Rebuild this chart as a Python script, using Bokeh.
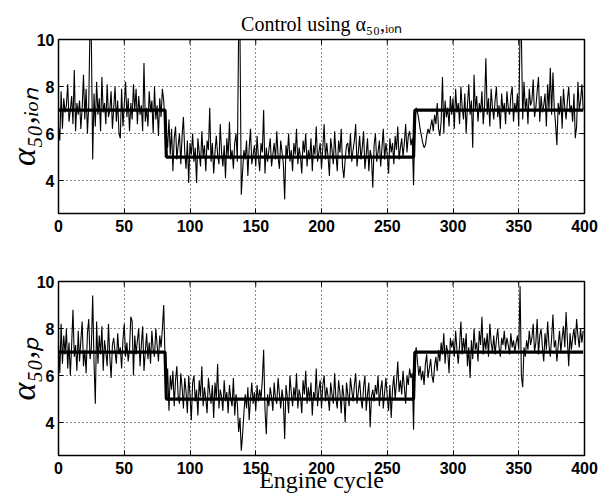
from bokeh.plotting import figure
from bokeh.models import Range1d
from bokeh.layouts import column
from bokeh.embed import file_html
from bokeh.resources import INLINE

cycles = list(range(400))

alpha_ion = [
    6.3, 5.7, 7.8, 6.2, 7.5, 6.9, 7.2, 8.1, 6.5, 7.0, 7.6, 6.4, 8.7, 6.1, 7.3, 6.8, 7.4, 6.2, 7.1, 8.5,
    6.6, 7.9, 6.0, 7.2, 10.8, 9.9, 4.9, 7.7, 6.3, 8.2, 6.8, 7.5, 6.1, 8.4, 6.9, 7.3, 6.4, 8.1, 6.7, 7.0,
    7.8, 6.2, 7.1, 8.0, 6.5, 7.4, 6.0, 5.8, 7.9, 6.3, 7.2, 8.2, 6.7, 7.5, 6.1, 7.3, 6.6, 8.1, 7.0, 7.9,
    6.4, 7.6, 6.8, 7.2, 6.1, 9.0, 6.5, 7.1, 6.3, 7.8, 6.9, 7.4, 6.0, 8.0, 6.6, 7.2, 5.9, 7.5, 6.7, 7.9,
    7.4, 6.5, 6.0, 5.4, 6.6, 5.1, 6.2, 4.4, 5.8, 6.3, 4.9, 5.5, 6.0, 4.7, 5.9, 6.7, 5.2, 4.5, 5.7, 3.9,
    5.6, 5.1, 6.0, 4.8, 5.4, 3.9, 5.8, 5.2, 4.6, 6.1, 5.0, 5.5, 4.4, 5.7, 5.3, 7.1, 4.8, 5.6, 4.3, 5.2,
    5.9, 5.1, 4.7, 6.4, 5.2, 4.6, 5.5, 4.1, 5.8, 5.0, 6.5, 4.9, 5.3, 4.5, 5.6, 6.0, 4.8, 10.5, 10.3, 3.4,
    4.4, 5.3, 4.9, 5.7, 4.2, 5.4, 6.2, 4.7, 5.1, 5.5, 4.6, 5.9, 5.0, 4.4, 5.6, 5.2, 7.0, 4.3, 5.4, 4.8,
    5.3, 5.8, 4.6, 5.1, 5.6, 4.9, 6.1, 5.0, 4.5, 5.7, 5.2, 4.7, 3.2, 5.5, 5.0, 6.0, 4.8, 5.3, 4.4, 5.6,
    5.1, 6.2, 4.7, 5.4, 5.0, 4.3, 5.7, 5.2, 6.0, 4.6, 5.3, 4.9, 5.8, 4.4, 5.5, 5.1, 6.3, 4.8, 5.2, 5.6,
    4.5, 5.4, 6.4, 4.9, 5.6, 5.0, 4.2, 5.8, 5.3, 4.7, 6.1, 5.1, 4.4, 5.7, 5.2, 6.2, 4.6, 4.1, 4.9, 5.5,
    5.6, 5.0, 6.0, 4.8, 5.3, 5.7, 6.4, 4.6, 5.2, 5.9, 4.9, 5.4, 6.1, 4.5, 5.1, 5.8, 4.4, 5.3, 5.0, 3.7,
    5.5, 6.0, 4.8, 5.2, 5.7, 4.6, 5.4, 6.2, 4.9, 5.6, 5.1, 4.3, 5.8, 5.2, 5.6, 4.7, 5.9, 5.3, 6.3, 4.9,
    5.4, 5.8, 5.0, 5.6, 6.4, 5.2, 5.9, 6.1, 5.5, 5.8, 3.8, 6.5, 7.1, 6.9, 6.6, 6.2, 5.9, 5.6, 5.4, 5.5,
    5.9, 6.2, 6.0, 6.3, 6.6, 6.1, 6.8, 6.4, 7.3, 6.2, 5.9, 6.5, 8.4, 6.0, 7.4, 6.7, 7.1, 6.3, 7.6, 6.8,
    7.5, 6.2, 7.9, 6.9, 7.3, 6.4, 8.0, 7.1, 6.6, 7.7, 6.0, 7.2, 8.1, 6.8, 7.4, 5.4, 8.5, 7.0, 7.6, 6.5,
    7.3, 6.9, 7.8, 6.4, 7.2, 9.2, 6.8, 7.5, 6.3, 7.9, 7.1, 6.6, 7.4, 8.0, 6.7, 7.2, 6.2, 7.7, 6.9, 7.3,
    6.4, 7.8, 7.1, 6.8, 7.6, 8.0, 6.5, 7.3, 6.9, 7.7, 6.3, 10.5, 10.2, 6.6, 8.2, 7.0, 7.5, 6.4, 7.9, 7.2,
    7.4, 8.3, 6.7, 7.1, 7.8, 8.4, 6.5, 7.6, 6.9, 7.2, 7.7, 6.3, 8.1, 7.0, 8.8, 6.8, 8.6, 7.1, 6.4, 5.5,
    7.3, 6.8, 7.6, 6.2, 7.9, 7.1, 6.6, 7.4, 8.0, 6.9, 7.2, 6.5, 7.7, 5.8, 6.3, 8.2, 7.0, 7.4, 8.1, 7.0,
]

alpha_p = [
    7.4, 6.1, 8.2, 6.5, 7.7, 6.9, 8.0, 6.3, 7.4, 6.0, 7.3, 8.8, 6.8, 7.3, 6.2, 7.9, 6.6, 7.5, 8.3, 6.4,
    7.1, 6.1, 7.8, 8.4, 6.7, 7.2, 9.4, 6.6, 4.8, 8.3, 6.5, 7.7, 6.9, 8.1, 6.2, 7.5, 7.0, 6.4, 8.2, 6.8,
    5.9, 7.3, 7.6, 7.0, 6.5, 7.8, 6.9, 7.2, 6.3, 7.5, 8.2, 6.8, 7.4, 6.6, 7.1, 8.5, 8.3, 6.0, 7.7, 6.9,
    7.5, 8.0, 6.4, 7.3, 8.1, 6.2, 7.0, 7.8, 6.7, 7.4, 6.5, 7.9, 7.1, 6.8, 8.0, 7.3, 6.6, 7.7, 7.2, 8.0,
    9.0, 6.8, 5.2, 6.3, 4.5, 6.0, 5.4, 6.2, 4.7, 5.8, 6.4, 5.1, 4.8, 6.1, 5.5, 4.6, 5.9, 5.3, 4.4, 6.0,
    5.2, 4.1, 5.7, 6.0, 4.9, 5.4, 4.3, 5.8, 5.1, 6.4, 4.7, 5.5, 5.0, 4.4, 5.9, 5.3, 4.8, 5.6, 4.2, 5.7,
    5.0, 6.5, 4.6, 5.4, 5.1, 4.5, 5.8, 4.9, 5.3, 4.4, 5.6, 5.0, 4.7, 5.9, 4.3, 5.2, 4.8, 3.6, 4.2, 2.8,
    3.5, 4.4, 5.2, 4.6, 5.5, 4.1, 5.0, 5.7, 4.8, 5.3, 4.5, 5.6, 4.9, 5.4, 5.0, 5.8, 7.1, 4.6, 3.5, 5.2,
    4.7, 5.5, 5.1, 4.5, 5.7, 5.0, 4.8, 5.9, 5.2, 4.6, 5.4, 4.9, 3.3, 5.6, 5.1, 4.4, 6.0, 5.3, 4.7, 5.5,
    5.0, 6.1, 4.6, 5.4, 5.1, 4.4, 5.8, 5.2, 6.2, 4.8, 5.5, 4.9, 5.7, 4.3, 5.3, 5.0, 6.3, 4.7, 5.4, 5.8,
    4.6, 5.6, 6.0, 4.9, 5.5, 5.1, 4.5, 5.7, 5.2, 4.8, 6.1, 5.0, 4.6, 5.8, 5.3, 4.4, 5.6, 5.1, 4.0, 5.7,
    5.2, 4.7, 5.9, 5.4, 4.9, 5.6, 6.1, 4.8, 5.3, 5.8, 5.0, 4.6, 5.5, 6.0, 4.5, 5.2, 5.7, 3.8, 5.1, 5.4,
    4.9, 5.6, 5.2, 6.0, 4.7, 5.4, 5.8, 4.6, 5.3, 5.9, 5.1, 4.5, 5.6, 4.2, 5.4, 6.0, 5.0, 5.7, 6.6, 5.3,
    5.8, 5.2, 6.2, 5.5, 4.8, 6.0, 5.6, 6.3, 5.9, 6.1, 3.7, 6.8, 7.2, 6.6, 6.0, 6.4, 5.8, 6.2, 5.6, 6.5,
    6.9, 5.9, 6.3, 6.7, 6.0, 5.7, 6.4, 6.8, 6.2, 7.1, 6.6, 7.4, 6.9, 7.8, 6.5, 7.3, 7.0, 6.1, 7.6, 7.2,
    7.5, 6.8, 7.9, 7.1, 6.5, 7.3, 8.3, 6.9, 7.6, 7.0, 7.8, 6.4, 7.2, 5.9, 7.5, 6.7, 8.0, 7.1, 7.4, 6.6,
    7.9, 7.3, 8.5, 6.9, 7.6, 7.1, 7.8, 6.8, 8.2, 7.4, 7.0, 7.7, 6.9, 7.5, 8.0, 7.2, 6.8, 7.6, 7.3, 7.9,
    7.1, 7.6, 7.3, 6.9, 7.8, 7.2, 7.5, 7.0, 7.4, 7.7, 7.1, 9.8, 6.0, 5.5, 7.2, 6.8, 7.5, 7.1, 7.9, 7.3,
    7.6, 8.2, 7.0, 7.4, 8.4, 6.9, 7.7, 8.0, 7.2, 6.6, 7.8, 7.1, 8.3, 7.3, 6.8, 7.6, 8.6, 7.2, 7.5, 6.6,
    7.3, 7.9, 7.0, 7.6, 8.1, 7.2, 8.7, 7.5, 6.4, 7.8, 7.1, 7.6, 8.0, 7.3, 8.4, 7.7, 7.2, 8.0, 7.4, 7.9,
]

setpoint_cycles = [0, 81, 82, 270, 271, 399]
setpoint_values = [7, 7, 5, 5, 7, 7]

x_ticks = [0, 50, 100, 150, 200, 250, 300, 350, 400]
y_ticks = [4, 6, 8, 10]

title_text = "Control using α₅₀,ᵢₒₙ"
ylabel_top = "α₅₀,ᵢₒₙ"
ylabel_bottom = "α₅₀,ₚ"
xlabel_text = "Engine cycle"

SERIF = "Liberation Serif"
SANS = "Liberation Sans"
X0, X1, Y0, Y1 = 0, 400, 2.6, 10
TICK_PX = 5
W = 600
B_LEFT, B_RIGHT = 58, 16


def make_fig(values, ylabel, height, border_top, border_bottom, title=None, xlabel=None):
    kw = dict(width=W, height=height, output_backend="svg", toolbar_location=None,
              x_range=Range1d(X0, X1), y_range=Range1d(Y0, Y1),
              min_border_left=B_LEFT, min_border_right=B_RIGHT, min_border_top=border_top,
              min_border_bottom=border_bottom)
    if title is not None:
        kw["title"] = title
    p = figure(**kw)
    if title is not None:
        p.title.text_font = SERIF
        p.title.text_font_size = "20px"
        p.title.text_font_style = "normal"
        p.title.text_color = "black"
        p.title.align = "center"
        p.title.standoff = 9
        p.title.offset = 0
    p.background_fill_color = "white"
    p.border_fill_color = "white"
    p.outline_line_color = "black"
    p.outline_line_width = 1.5
    for ax in (p.xaxis[0], p.yaxis[0]):
        ax.major_tick_in = TICK_PX
        ax.major_tick_out = 0
        ax.minor_tick_line_color = None
        ax.axis_line_color = "black"
        ax.major_tick_line_color = "black"
        ax.major_label_text_font = SANS
        ax.major_label_text_font_style = "bold"
        ax.major_label_text_font_size = "16px"
        ax.major_label_text_color = "black"
    p.xaxis.ticker = x_ticks
    p.yaxis.ticker = y_ticks
    p.xaxis.major_label_standoff = 6
    p.yaxis.major_label_standoff = 4
    p.yaxis.axis_label = ylabel
    p.yaxis.axis_label_text_font = SERIF
    p.yaxis.axis_label_text_font_style = "italic"
    p.yaxis.axis_label_text_font_size = "34px"
    p.yaxis.axis_label_text_color = "black"
    p.yaxis.axis_label_standoff = -8
    if xlabel is not None:
        p.xaxis.axis_label = xlabel
        p.xaxis.axis_label_text_font = SERIF
        p.xaxis.axis_label_text_font_style = "normal"
        p.xaxis.axis_label_text_font_size = "24px"
        p.xaxis.axis_label_text_color = "black"
        p.xaxis.axis_label_standoff = -10
    p.xgrid.ticker = x_ticks
    p.ygrid.ticker = y_ticks
    for g in (p.xgrid, p.ygrid):
        g.grid_line_color = "black"
        g.grid_line_dash = "1 3"
        g.grid_line_width = 1
        g.grid_line_alpha = 0.9
    # inward ticks on the right and top edges (box style)
    fw = W - B_LEFT - B_RIGHT
    fh = height - border_top - border_bottom
    dx = TICK_PX * (X1 - X0) / fw
    dy = TICK_PX * (Y1 - Y0) / fh
    p.segment(x0=[X1] * len(y_ticks), y0=y_ticks, x1=[X1 - dx] * len(y_ticks), y1=y_ticks,
              line_color="black", line_width=1)
    p.segment(x0=x_ticks, y0=[Y1] * len(x_ticks), x1=x_ticks, y1=[Y1 - dy] * len(x_ticks),
              line_color="black", line_width=1)
    p.line(cycles, values, line_color="black", line_width=1.1)
    p.line(setpoint_cycles, setpoint_values, line_color="black", line_width=3.2)
    return p


p1 = make_fig(alpha_ion, ylabel_top, height=247, border_top=39, border_bottom=34,
              title=title_text)
p2 = make_fig(alpha_p, ylabel_bottom, height=253, border_top=34, border_bottom=45,
              xlabel=xlabel_text)

layout = column(p1, p2, spacing=0)

open("out.html", "w").write(file_html(layout, INLINE))
